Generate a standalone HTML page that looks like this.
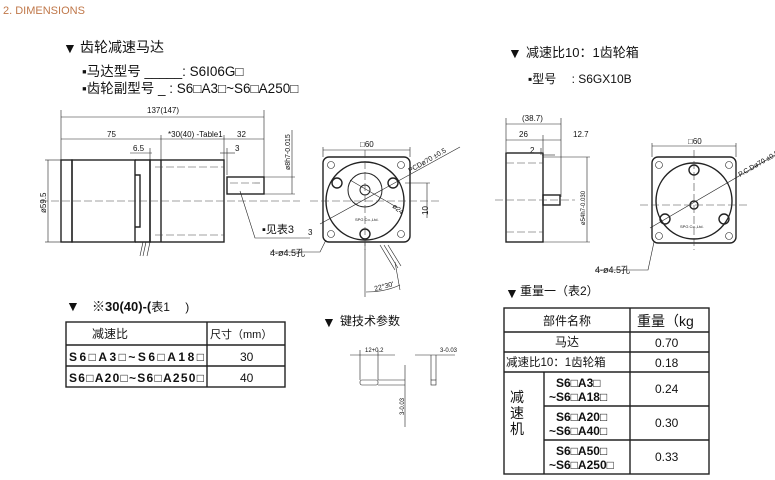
<!DOCTYPE html>
<html><head><meta charset="utf-8"><style>
html,body{margin:0;padding:0;background:#fff;}
svg{display:block;font-family:"Liberation Sans","Noto Sans CJK SC",sans-serif;}
.t{fill:#111}
.ln{stroke:#222;stroke-width:1;fill:none}
.th{stroke:#222;stroke-width:0.6;fill:none}
.cl{stroke:#444;stroke-width:0.6;stroke-dasharray:8 3;fill:none}
.bd{stroke:#222;stroke-width:1.4;fill:none}
</style></head><body>
<svg width="775" height="480" viewBox="0 0 775 480" xmlns="http://www.w3.org/2000/svg">
<text x="3" y="14" font-size="11" fill="#c0784a">2. DIMENSIONS</text>

<text x="63" y="53" font-size="14" class="t">▼</text>
<text x="80" y="52" font-size="14" class="t">齿轮减速马达</text>
<text x="82" y="76" font-size="13.5" class="t">▪马达型号 _____: S6I06G□</text>
<text x="82" y="93" font-size="13.5" class="t">▪齿轮副型号 _ : S6□A3□~S6□A250□</text>

<g class="th">
<line x1="61" y1="117" x2="264" y2="117"/><line x1="61" y1="139" x2="264" y2="139"/>
<line x1="61" y1="110" x2="61" y2="160"/><line x1="264" y1="110" x2="264" y2="178"/>
<line x1="161" y1="135" x2="161" y2="160"/><line x1="224" y1="135" x2="224" y2="160"/>
<line x1="130" y1="153" x2="152" y2="153"/><line x1="220" y1="153" x2="235" y2="153"/>
<line x1="150" y1="148" x2="150" y2="160"/><line x1="227" y1="148" x2="227" y2="175"/>
<line x1="48" y1="160" x2="48" y2="242"/><line x1="45" y1="160" x2="61" y2="160"/><line x1="45" y1="242" x2="61" y2="242"/>
<line x1="292" y1="130" x2="292" y2="194"/><line x1="264" y1="177" x2="295" y2="177"/><line x1="264" y1="194" x2="295" y2="194"/>
</g>
<text x="147" y="113" font-size="8" class="t">137(147)</text>
<text x="107" y="137" font-size="8" class="t">75</text>
<text x="168" y="137" font-size="8" class="t">*30(40) -Table1</text>
<text x="237" y="137" font-size="8" class="t">32</text>
<text x="133" y="151" font-size="8" class="t">6.5</text>
<text x="235" y="151" font-size="8" class="t">3</text>
<text x="46" y="213" font-size="8" class="t" transform="rotate(-90 46 213)">ø59.5</text>
<text x="290" y="170" font-size="7" class="t" transform="rotate(-90 290 170)">ø8h7-0.015</text>

<g class="bd">
<rect x="61" y="160" width="11" height="82"/>
<rect x="72" y="160" width="63" height="82"/>
<path d="M135 160 H150 V242 H135 M135 175 H140 V227 H135"/>
<rect x="150" y="160" width="74" height="82"/>
<line x1="161" y1="160" x2="161" y2="242"/>
<rect x="227" y="177" width="37" height="17"/>
</g>
<g class="cl"><line x1="40" y1="201" x2="300" y2="201"/><line x1="155" y1="167" x2="224" y2="167"/><line x1="155" y1="235" x2="224" y2="235"/><line x1="230" y1="183" x2="262" y2="183"/></g>
<path class="th" d="M143 242 L140 256 M146 242 L143 256 M150 242 L147 256"/>
<path class="th" d="M240 191 L255 238 H310"/>
<text x="262" y="233" font-size="11" class="t">▪见表3</text>
<text x="308" y="235" font-size="8" class="t">3</text>
<path class="th" d="M270 252 H320 L326 240"/>
<text x="270" y="256" font-size="9" class="t">4-ø4.5孔</text>

<rect x="323" y="157" width="87" height="85" rx="6" class="bd"/>
<circle cx="365" cy="201" r="39" class="bd"/>
<circle cx="365" cy="190" r="17" class="ln"/>
<circle cx="365" cy="190" r="5" class="ln"/>
<circle cx="337" cy="183" r="5" class="bd"/><circle cx="393" cy="183" r="5" class="bd"/><circle cx="365" cy="234" r="5" class="bd"/>
<g class="th"><circle cx="331" cy="165" r="3.5"/><circle cx="401" cy="165" r="3.5"/><circle cx="331" cy="234" r="3.5"/><circle cx="401" cy="234" r="3.5"/>
<line x1="323" y1="150" x2="410" y2="150"/><line x1="323" y1="147" x2="323" y2="157"/><line x1="410" y1="147" x2="410" y2="157"/>
<line x1="320" y1="224" x2="460" y2="147"/><line x1="350" y1="180" x2="398" y2="208"/>
<line x1="427" y1="183" x2="427" y2="218"/><line x1="405" y1="183" x2="430" y2="183"/>
<line x1="380" y1="245" x2="395" y2="270"/><line x1="384" y1="245" x2="398" y2="268"/><line x1="388" y1="245" x2="401" y2="266"/>
<line x1="365" y1="242" x2="365" y2="297"/><line x1="395" y1="262" x2="400" y2="290"/><path d="M366 292 Q385 292 400 285"/>
</g>
<line x1="310" y1="201" x2="440" y2="201" class="cl"/>
<line x1="365" y1="150" x2="365" y2="250" class="cl"/>
<text x="360" y="147" font-size="8" class="t">□60</text>
<text x="410" y="173" font-size="7" class="t" transform="rotate(-30 410 173)">PCDø70 ±0.5</text>
<text x="392" y="207" font-size="7" class="t" transform="rotate(40 392 207)">ø24</text>
<text x="428" y="215" font-size="8" class="t" transform="rotate(-90 428 215)">10</text>
<text x="355" y="221" font-size="4" class="t">SPG Co.,Ltd.</text>
<text x="375" y="291" font-size="7" class="t" transform="rotate(-15 375 291)">22°30'</text>

<text x="508" y="58" font-size="14" class="t">▼</text>
<text x="526" y="57" font-size="13" class="t">减速比10：1齿轮箱</text>
<text x="528" y="83" font-size="12" class="t">▪型号　 : S6GX10B</text>

<g class="th">
<line x1="506" y1="124" x2="561" y2="124"/><line x1="506" y1="140" x2="561" y2="140"/>
<line x1="506" y1="118" x2="506" y2="152"/><line x1="561" y1="118" x2="561" y2="197"/>
<line x1="543" y1="135" x2="543" y2="152"/><line x1="542" y1="155" x2="555" y2="155"/><line x1="541" y1="148" x2="541" y2="155"/>
<line x1="587" y1="157" x2="587" y2="242"/><line x1="543" y1="157" x2="590" y2="157"/><line x1="543" y1="242" x2="590" y2="242"/>
</g>
<text x="522" y="121" font-size="8" class="t">(38.7)</text>
<text x="519" y="137" font-size="8" class="t">26</text>
<text x="573" y="137" font-size="8" class="t">12.7</text>
<text x="530" y="153" font-size="8" class="t">2</text>
<text x="585" y="225" font-size="6" class="t" transform="rotate(-90 585 225)">ø54h7-0.030</text>
<rect x="506" y="153" width="37" height="89" class="bd"/>
<rect x="543" y="195" width="17" height="10" class="bd"/>
<g class="cl"><line x1="495" y1="200" x2="575" y2="200"/><line x1="506" y1="163" x2="543" y2="163"/><line x1="506" y1="232" x2="543" y2="232"/></g>

<rect x="652" y="157" width="84" height="86" rx="6" class="bd"/>
<circle cx="694" cy="201" r="38" class="bd"/>
<circle cx="694" cy="205" r="4" class="bd"/>
<circle cx="694" cy="170" r="5" class="bd"/><circle cx="665" cy="219" r="5" class="bd"/><circle cx="724" cy="219" r="5" class="bd"/>
<g class="th"><circle cx="659" cy="165" r="3.5"/><circle cx="729" cy="165" r="3.5"/><circle cx="659" cy="236" r="3.5"/><circle cx="729" cy="236" r="3.5"/>
<line x1="652" y1="146" x2="736" y2="146"/><line x1="652" y1="143" x2="652" y2="157"/><line x1="736" y1="143" x2="736" y2="157"/>
<line x1="650" y1="228" x2="775" y2="155"/>
<path d="M595 270 H648 L654 242"/>
</g>
<line x1="640" y1="205" x2="750" y2="205" class="cl"/>
<line x1="694" y1="150" x2="694" y2="250" class="cl"/>
<text x="688" y="144" font-size="8" class="t">□60</text>
<text x="740" y="177" font-size="7" class="t" transform="rotate(-30 740 177)">P.C.Dø70 ±0.5</text>
<text x="680" y="228" font-size="4" class="t">SPG Co.,Ltd.</text>
<text x="595" y="273" font-size="9" class="t">4-ø4.5孔</text>

<text x="66" y="311" font-size="14" class="t">▼</text>
<text x="92" y="311" font-size="13" class="t" font-weight="bold">※30(40)-(<tspan font-weight="normal" font-size="12">表1　 )</tspan></text>
<g class="bd"><rect x="66" y="322" width="219" height="65"/><line x1="66" y1="345" x2="285" y2="345"/><line x1="66" y1="366" x2="285" y2="366"/><line x1="207" y1="322" x2="207" y2="387"/></g>
<text x="92" y="338" font-size="12" class="t">减速比</text>
<text x="210" y="338" font-size="11" class="t">尺寸（mm）</text>
<text x="69" y="361" font-size="12" class="t" font-weight="bold" textLength="135">S6□A3□~S6□A18□</text>
<text x="69" y="382" font-size="12" class="t" font-weight="bold" textLength="135">S6□A20□~S6□A250□</text>
<text x="240" y="361" font-size="12" class="t">30</text>
<text x="240" y="382" font-size="12" class="t">40</text>

<text x="322" y="327" font-size="14" class="t">▼</text>
<text x="340" y="325" font-size="12" class="t">键技术参数</text>
<g class="th">
<line x1="350" y1="355" x2="395" y2="355"/><line x1="360" y1="350" x2="360" y2="380"/><line x1="378" y1="350" x2="378" y2="380"/>
<rect x="360" y="380" width="18" height="5" rx="2"/><line x1="378" y1="380" x2="405" y2="380"/><line x1="378" y1="385" x2="405" y2="385"/>
<line x1="405" y1="365" x2="405" y2="427"/>
<line x1="415" y1="355" x2="455" y2="355"/><line x1="431" y1="355" x2="431" y2="380"/><line x1="436" y1="355" x2="436" y2="380"/>
<rect x="431" y="380" width="5" height="5"/>
</g>
<text x="365" y="352" font-size="6" class="t">12+0.2</text>
<text x="440" y="352" font-size="6" class="t">3-0.03</text>
<text x="404" y="415" font-size="6" class="t" transform="rotate(-90 404 415)">3-0.03</text>

<text x="505" y="298" font-size="14" class="t">▼</text>
<text x="520" y="295" font-size="12" class="t">重量一（表2）</text>
<g class="bd"><rect x="504" y="308" width="205" height="166"/>
<line x1="504" y1="332" x2="709" y2="332"/><line x1="504" y1="352" x2="709" y2="352"/><line x1="504" y1="372" x2="709" y2="372"/>
<line x1="544" y1="406" x2="709" y2="406"/><line x1="544" y1="440" x2="709" y2="440"/>
<line x1="544" y1="372" x2="544" y2="474"/><line x1="630" y1="308" x2="630" y2="474"/></g>
<text x="543" y="325" font-size="12" class="t">部件名称</text>
<text x="637" y="326" font-size="14" class="t">重量（kg</text>
<text x="555" y="346" font-size="12" class="t">马达</text>
<text x="506" y="366" font-size="11.5" class="t">减速比10：1齿轮箱</text>
<text x="655" y="347" font-size="12" class="t">0.70</text>
<text x="655" y="367" font-size="12" class="t">0.18</text>
<text x="510" y="402" font-size="14" class="t">减</text><text x="510" y="418" font-size="14" class="t">速</text><text x="510" y="434" font-size="14" class="t">机</text>
<g font-size="12" font-weight="bold" class="t">
<text x="556" y="387">S6□A3□</text><text x="549" y="401">~S6□A18□</text>
<text x="556" y="421">S6□A20□</text><text x="549" y="435">~S6□A40□</text>
<text x="556" y="455">S6□A50□</text><text x="549" y="469">~S6□A250□</text>
</g>
<text x="655" y="393" font-size="12" class="t">0.24</text>
<text x="655" y="427" font-size="12" class="t">0.30</text>
<text x="655" y="461" font-size="12" class="t">0.33</text>
</svg>
</body></html>
